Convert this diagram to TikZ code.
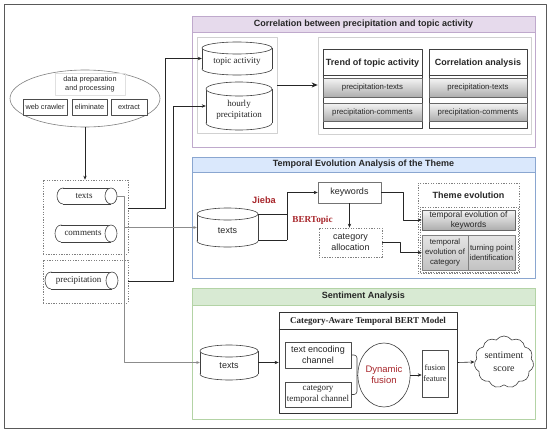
\documentclass[tikz,border=0pt]{standalone}
\usepackage{fontspec}
\setmainfont{Liberation Serif}
\setsansfont{Liberation Sans}
\usetikzlibrary{arrows.meta,shapes.geometric,shapes.symbols,calc}
\definecolor{purpbar}{HTML}{E6DAEC}
\definecolor{purpline}{HTML}{BFA9CC}
\definecolor{bluebar}{HTML}{DAE8FC}
\definecolor{blueline}{HTML}{8AA6D0}
\definecolor{greenbar}{HTML}{D8EAD3}
\definecolor{greenline}{HTML}{B3D3A5}
\definecolor{redtxt}{HTML}{A8262B}
\definecolor{txt}{HTML}{262626}

% vertical cylinder: name, x1, y1, x2, y2, ry, text options, text
\newcommand{\vcyl}[8]{%
  \pgfmathsetmacro\cyCX{(#2+#4)/2}%
  \pgfmathsetmacro\cyRX{(#4-#2)/2}%
  \pgfmathsetmacro\cyCY{(#3+#5)/2}%
  \draw[cyl] (\cyCX,{#5-#6}) ellipse [x radius=\cyRX pt, y radius=#6pt];
  \fill[white] (#2,{#3+#6}) rectangle (#4,{#5-#6});
  \draw[cyl] (#2,{#3+#6}) -- (#2,{#5-#6}) (#4,{#3+#6}) -- (#4,{#5-#6});
  \draw[cyl] (\cyCX,{#3+#6}) ellipse [x radius=\cyRX pt, y radius=#6pt];
  \node[inner sep=0pt, minimum width={(#4-#2)*1pt}, minimum height={(#5-#3)*1pt}] (#1) at (\cyCX,\cyCY) {};
  \node[plain,#7] at (\cyCX,{\cyCY+#6/2}) {#8};
}
% horizontal cylinder: name, x1, y1, x2, y2, rx, text
\newcommand{\hcyl}[7]{%
  \pgfmathsetmacro\cyCY{(#3+#5)/2}%
  \pgfmathsetmacro\cyRY{(#5-#3)/2}%
  \draw[cyl] ({#2+#6},\cyCY) ellipse [x radius=#6pt, y radius=\cyRY pt];
  \fill[white] ({#2+#6},#3) rectangle ({#4-#6},#5);
  \draw[cyl] ({#2+#6},#3) -- ({#4-#6},#3) ({#2+#6},#5) -- ({#4-#6},#5);
  \draw[cyl] ({#4-#6},\cyCY) ellipse [x radius=#6pt, y radius=\cyRY pt];
  \node[inner sep=0pt, minimum width={(#4-#2)*1pt}, minimum height={(#5-#3)*1pt}] (#1) at ({(#2+#4)/2},\cyCY) {};
  \node[plain,r9] at ({(#2+#4-#6)/2},\cyCY) {#7};
}

\begin{document}
\begin{tikzpicture}[x=1pt,y=-1pt, line join=round,
 cyl/.style={draw=black!75, line width=0.6pt, fill=white},
 arr/.style={draw=black!85, line width=0.6pt, -{Stealth[length=4pt,width=3.4pt]}},
 bigarr/.style={draw=black!85, line width=0.7pt, -{Stealth[length=6pt,width=5pt]}},
 garr/.style={draw=black!45, line width=0.5pt, -{Stealth[length=3.5pt,width=3pt]}},
 plain/.style={inner sep=0pt, align=center, text=txt},
 sbox/.style={plain, draw=black!70, line width=0.6pt, fill=white},
 dotbox/.style={plain, draw=black!50, line width=0.7pt, dash pattern=on 1.3pt off 1.3pt},
 lgbox/.style={plain, draw=black!18, line width=0.7pt, fill=white},
 gradrow/.style={plain, draw=black!60, line width=0.5pt, top color=black!4, bottom color=black!32},
 gradrowb/.style={plain, draw=black!50, line width=0.5pt, top color=black!10, bottom color=black!24},
 secframe/.style={plain, line width=0.8pt, fill=white},
 s7/.style={font=\sffamily\fontsize{7.3}{9}\selectfont},
 s8/.style={font=\sffamily\fontsize{7.8}{10}\selectfont},
 s9/.style={font=\sffamily\fontsize{9}{11}\selectfont},
 b9/.style={font=\sffamily\bfseries\fontsize{9}{11}\selectfont},
 r9/.style={font=\rmfamily\fontsize{9}{11}\selectfont},
 rb9/.style={font=\rmfamily\bfseries\fontsize{9}{11}\selectfont},
]
\useasboundingbox (0,0) rectangle (550,434);

% outer frame
\node[plain, draw=black!65, line width=0.9pt, minimum width=542pt, minimum height=424pt] (frame) at (275,216) {};

% ---------------- left part
\node[ellipse, draw=black!50, line width=0.6pt, minimum width=150pt, minimum height=57pt, inner sep=0pt] (prep) at (85,98.5) {};
\node[plain, draw=black!12, line width=0.5pt, minimum width=70pt, minimum height=22pt, s7] (dpp) at (90,84) {data preparation\\and processing};
\node[sbox, s7, minimum width=44pt, minimum height=16pt] (web) at (45,107) {web crawler};
\node[sbox, s7, minimum width=35pt, minimum height=16pt] (elim) at (89.5,107) {eliminate};
\node[sbox, s7, minimum width=36pt, minimum height=16pt] (extr) at (129,107) {extract};

\node[dotbox, minimum width=85pt, minimum height=74pt] (box1) at (85.5,217) {};
\node[dotbox, minimum width=85pt, minimum height=43pt] (box2) at (85.5,281.5) {};
\hcyl{ltexts}{57}{188}{117}{204}{6}{texts}
\hcyl{lcomments}{55}{225}{117}{242}{6}{comments}
\hcyl{lprecip}{45}{272}{118}{289}{6}{precipitation}

\draw[arr] (prep.south) -- (prep.south |- box1.north);

% ---------------- section 1
\node[secframe, draw=purpline, minimum width=343pt, minimum height=131pt] (sec1) at (363.5,81.5) {};
\node[plain, fill=purpbar, draw=purpline, line width=0.8pt, minimum width=343pt, minimum height=16pt, b9] (sec1t) at (363.5,24) {Correlation between precipitation and topic activity};

\node[lgbox, minimum width=80pt, minimum height=96pt] (plbox) at (237,85) {};
\vcyl{topic}{202}{42}{272}{75}{6}{r9}{topic activity}
\vcyl{hourly}{206}{82}{272}{130}{7}{r9}{hourly\\precipitation}
\node[lgbox, minimum width=213pt, minimum height=97pt] (prbox) at (424.5,85.5) {};

\node[plain, draw=black!75, line width=0.7pt, fill=white, minimum width=99pt, minimum height=79pt] (trend) at (372.5,88.5) {};
\node[plain, b9] (trendt) at (372.5,63) {Trend of topic activity};
\draw[black!75, line width=0.6pt] ($(trend.north west)+(0,27)$) -- ($(trend.north east)+(0,27)$);
\node[gradrow, s8, minimum width=99pt, minimum height=19pt] (tr1) at (372.5,87.5) {precipitation-texts};
\node[gradrow, s8, minimum width=99pt, minimum height=18pt] (tr2) at (372.5,112) {precipitation-comments};

\node[plain, draw=black!75, line width=0.7pt, fill=white, minimum width=98pt, minimum height=79pt] (corr) at (478,88.5) {};
\node[plain, b9] (corrt) at (478,63) {Correlation analysis};
\draw[black!75, line width=0.6pt] ($(corr.north west)+(0,27)$) -- ($(corr.north east)+(0,27)$);
\node[gradrow, s8, minimum width=98pt, minimum height=19pt] (co1) at (478,87.5) {precipitation-texts};
\node[gradrow, s8, minimum width=98pt, minimum height=18pt] (co2) at (478,112) {precipitation-comments};

\draw[bigarr] (plbox.east) -- (plbox.east -| prbox.west);
\draw[arr] ($(box1.east)+(0,-9)$) -- (165,208) |- (topic.west);
\draw[arr] (box2.east) -- (173,281.5) |- (hourly.west);

% ---------------- section 2
\node[secframe, draw=blueline, minimum width=343pt, minimum height=121pt] (sec2) at (363.5,217.5) {};
\node[plain, fill=bluebar, draw=blueline, line width=0.8pt, minimum width=343pt, minimum height=15pt, b9] (sec2t) at (363.5,164.5) {Temporal Evolution Analysis of the Theme};

\vcyl{ttexts}{197}{208}{258}{247}{6}{s9}{texts}
\node[plain, font=\sffamily\bfseries\fontsize{9.2}{11}\selectfont, text=redtxt] (jieba) at (264,200) {Jieba};
\node[plain, font=\rmfamily\bfseries\fontsize{9.2}{11}\selectfont, text=redtxt] (bertopic) at (312.5,220) {BERTopic};
\node[sbox, draw=black!55, s9, minimum width=63pt, minimum height=21pt] (kw) at (349.5,192.5) {keywords};
\node[dotbox, s9, fill=white, minimum width=63pt, minimum height=29pt] (ca) at (350.5,242.5) {category\\allocation};
\node[dotbox, minimum width=101pt, minimum height=90pt] (te) at (468.5,228) {};
\node[plain, b9] (tet) at (468.5,195) {Theme evolution};
\node[dotbox, minimum width=98pt, minimum height=65pt] (tei) at (469,239.5) {};
\node[gradrow, font=\sffamily\fontsize{8.4}{10}\selectfont, minimum width=93pt, minimum height=20pt] (tek) at (468.5,220) {temporal evolution of\\keywords};
\node[gradrowb, font=\sffamily\fontsize{7.8}{9.6}\selectfont, minimum width=46pt, minimum height=35pt] (tec) at (445,252.5) {temporal\\evolution of\\category};
\node[gradrowb, font=\sffamily\fontsize{7.8}{9.6}\selectfont, minimum width=47pt, minimum height=35pt] (tpi) at (491.5,252.5) {turning point\\identification};

\draw[black!85, line width=0.6pt] ($(ttexts.east)+(0,-13.5)$) -- (287,214);
\draw[black!85, line width=0.6pt] ($(ttexts.east)+(0,12.5)$) -- (287,240);
\draw[arr] (287,240) |- (kw.west);
\draw[arr] (kw.south) -- (kw.south |- ca.north);
\draw[arr] (kw.east) -- ++(22,0) |- (tek.west);
\draw[arr] (ca.east) -- ++(18,0) |- (tec.west);

% ---------------- section 3
\node[secframe, draw=greenline, minimum width=343pt, minimum height=131pt] (sec3) at (363.5,353.5) {};
\node[plain, fill=greenbar, draw=greenline, line width=0.8pt, minimum width=343pt, minimum height=17pt, b9] (sec3t) at (363.5,296.5) {Sentiment Analysis};

\node[plain, draw=black!80, line width=0.8pt, minimum width=178pt, minimum height=101pt] (model) at (368,362.5) {};
\node[plain, rb9] (modelt) at (368,321) {Category-Aware Temporal BERT Model};
\draw[black!80, line width=0.7pt] ($(model.north west)+(0,18)$) -- ($(model.north east)+(0,18)$);

\vcyl{stexts}{200}{345}{258}{380}{6}{s9}{texts}
\node[sbox, s9, minimum width=66pt, minimum height=26pt] (ten) at (318,355) {text encoding\\channel};
\node[sbox, font=\rmfamily\fontsize{9}{10.5}\selectfont, minimum width=66pt, minimum height=25pt] (ctc) at (318,394.5) {category\\temporal channel};
\node[ellipse, draw=black!75, line width=0.6pt, inner sep=0pt, minimum width=44pt, minimum height=64pt, align=center, text=redtxt, font=\sffamily\fontsize{9.5}{11}\selectfont] (fus) at (384,375) {Dynamic\\fusion};
\node[sbox, font=\rmfamily\fontsize{8.3}{11}\selectfont, minimum width=26pt, minimum height=47pt] (ff) at (435,373.5) {fusion\\feature};
\node[cloud, cloud puffs=11, cloud puff arc=110, aspect=1.2, draw=black!75, line width=0.6pt, inner sep=0pt, minimum width=58pt, minimum height=50pt, align=center, text=txt, font=\rmfamily\fontsize{10}{13}\selectfont] (cloud) at (504,362) {sentiment\\score};

\draw[arr] (stexts.east) -- (stexts.east -| model.west);
\draw[black!75, line width=0.6pt, rounded corners=3pt] (ten.east) -| (357,375) |- (ctc.east);
\draw[black!75, line width=0.6pt] (357,375) -- (fus.west);
\draw[arr] (fus.east) -- (fus.east -| ff.west);
\draw[arr] (model.east) -- (cloud.west);

% grey links from texts (drawn last, over the frames)
\draw[garr] (ltexts.east) -- ++(7,0) coordinate (gv) |- (stexts.west);
\draw[garr] (gv |- ttexts.west) -- (ttexts.west);
\end{tikzpicture}
\end{document}
